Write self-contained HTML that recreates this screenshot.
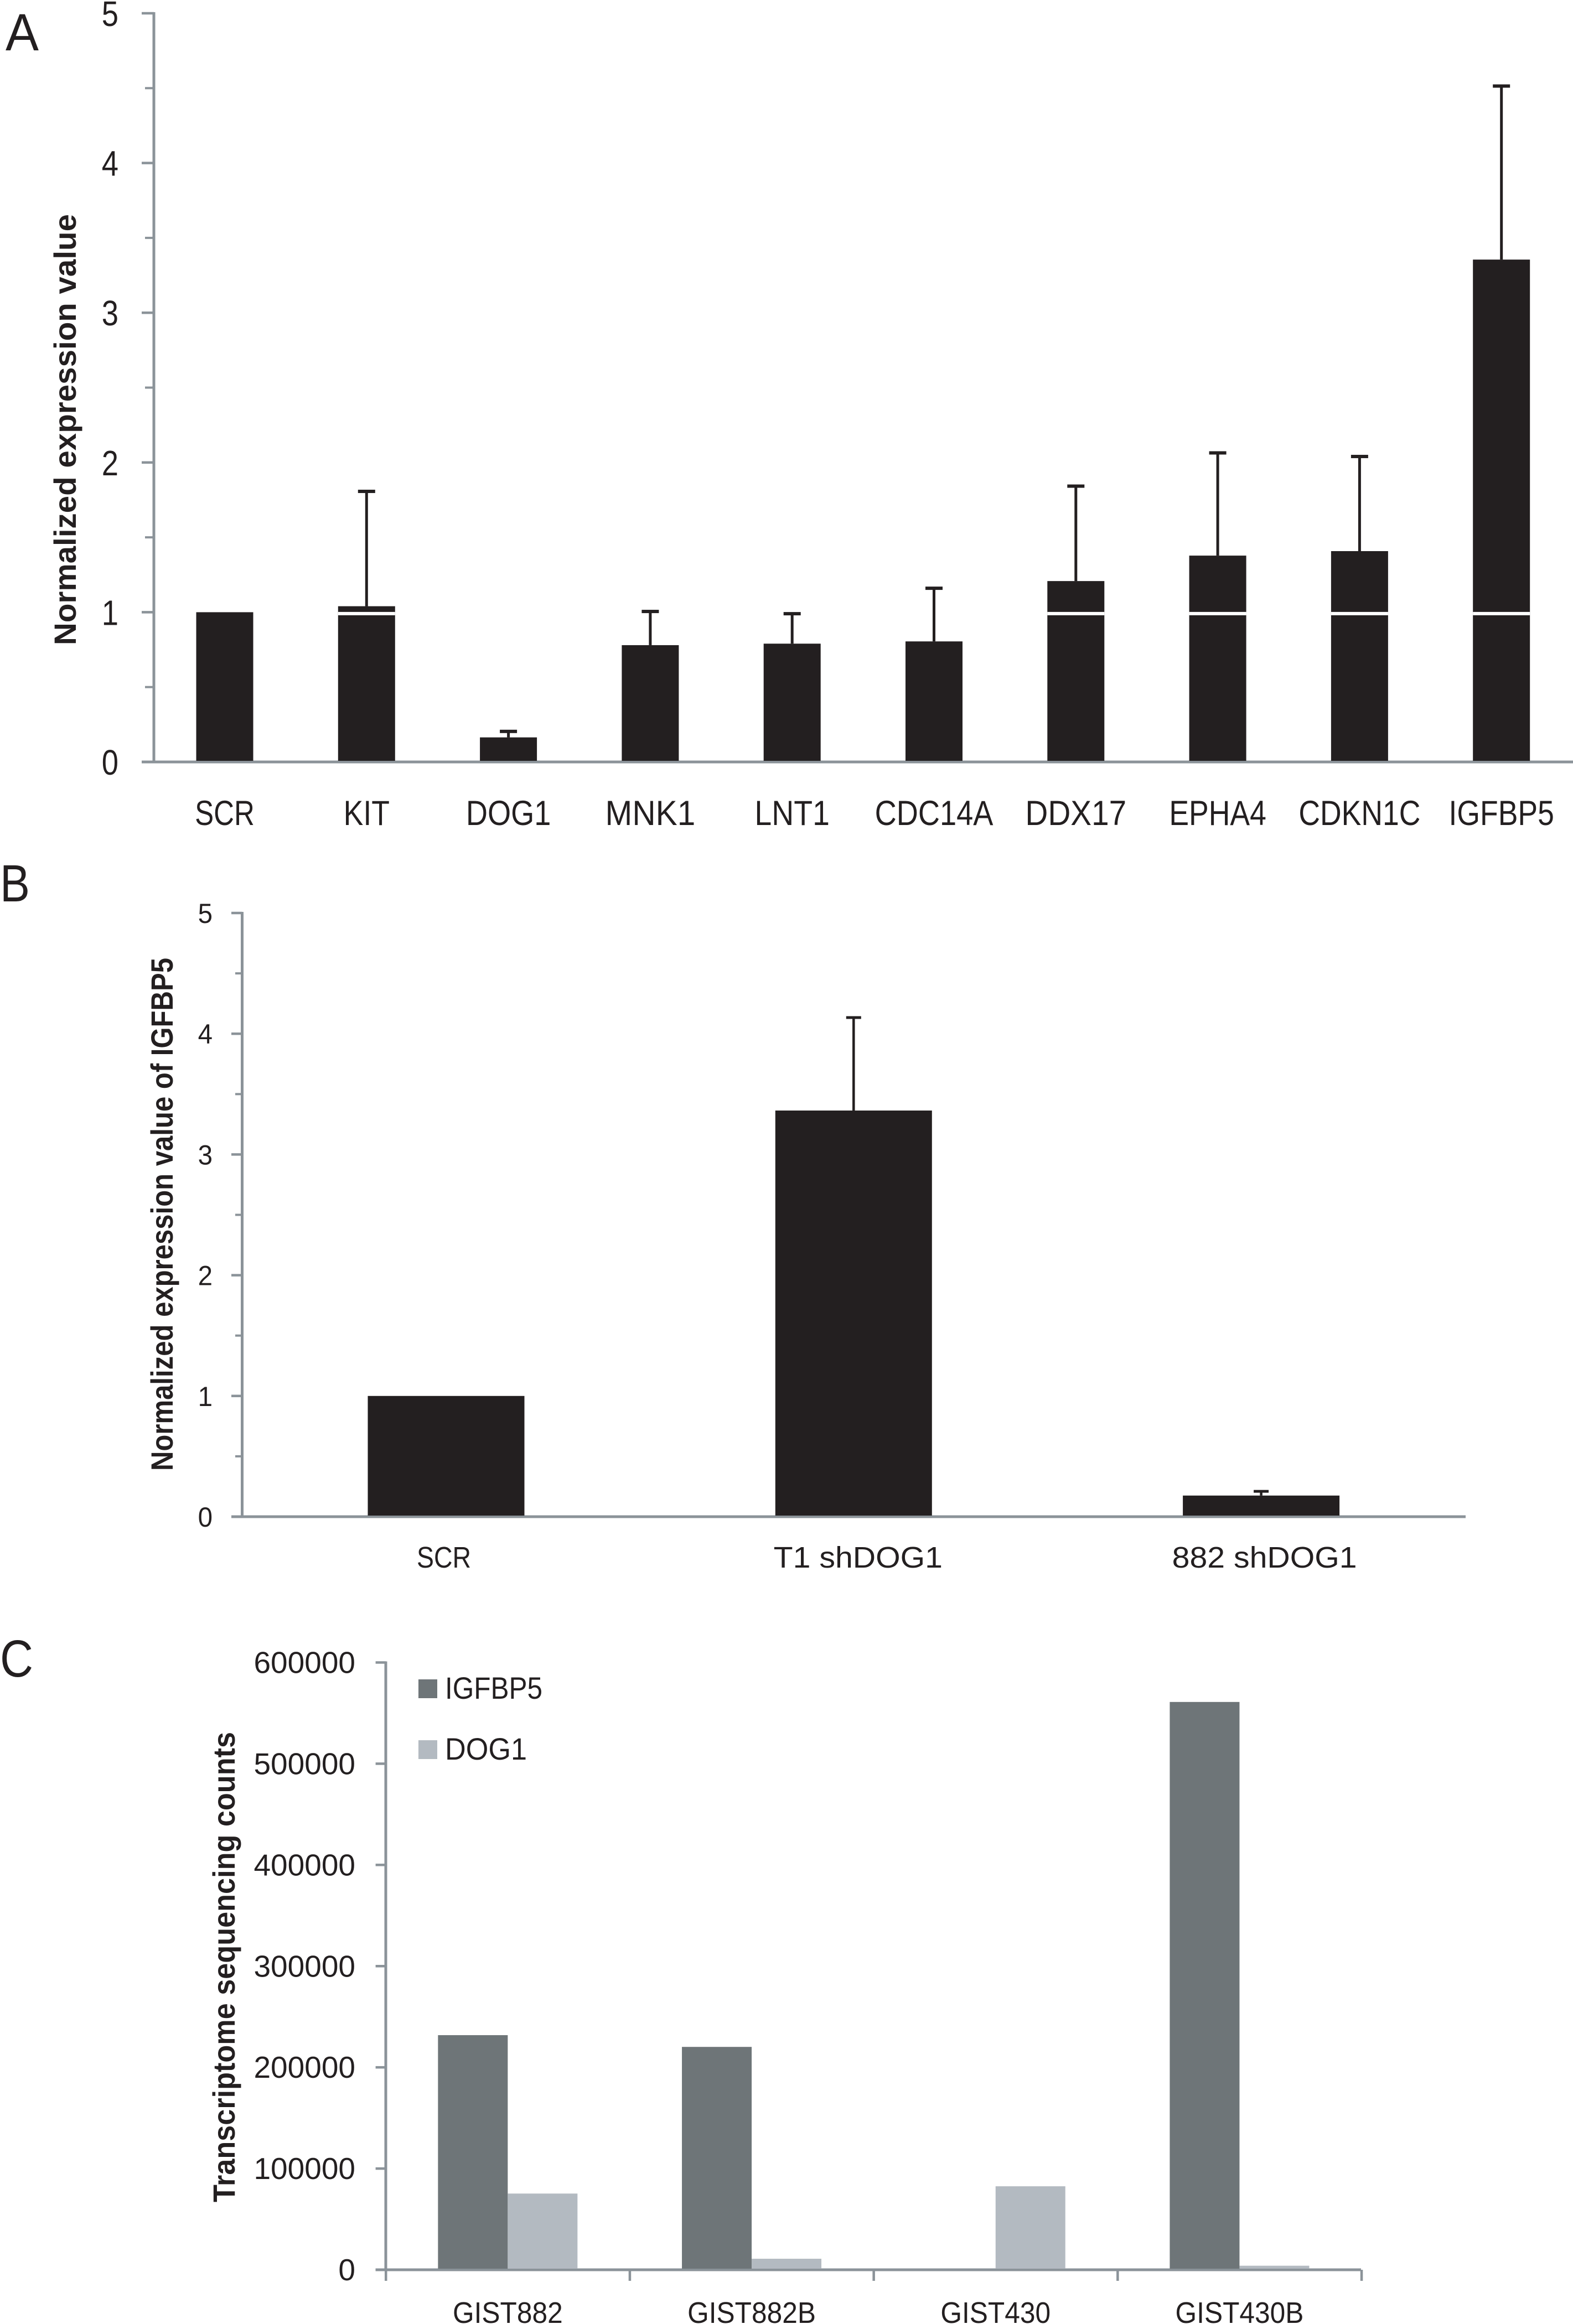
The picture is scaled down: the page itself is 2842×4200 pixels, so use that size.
<!DOCTYPE html>
<html>
<head>
<meta charset="utf-8">
<title>Expression bar charts</title>
<style>
html,body{margin:0;padding:0;background:#fff;}
svg{display:block;}
text{font-family:"Liberation Sans",sans-serif;fill:#231f20;}
</style>
</head>
<body>
<svg id="figure" xmlns="http://www.w3.org/2000/svg" width="2842" height="4200" viewBox="0 0 2842 4200">
<rect x="0" y="0" width="2842" height="4200" fill="#ffffff"/>
<text x="10" y="91" font-size="95" textLength="60" lengthAdjust="spacingAndGlyphs">A</text>
<text x="0" y="1629" font-size="95" textLength="54" lengthAdjust="spacingAndGlyphs">B</text>
<text x="0" y="3030" font-size="95" textLength="60" lengthAdjust="spacingAndGlyphs">C</text>
<text transform="translate(137,776.5) rotate(-90)" text-anchor="middle" font-size="56" font-weight="bold" textLength="779" lengthAdjust="spacingAndGlyphs">Normalized expression value</text>
<text transform="translate(312,2194.5) rotate(-90)" text-anchor="middle" font-size="56" font-weight="bold" textLength="927" lengthAdjust="spacingAndGlyphs">Normalized expression value of IGFBP5</text>
<text transform="translate(424,3555) rotate(-90)" text-anchor="middle" font-size="56" font-weight="bold" textLength="850" lengthAdjust="spacingAndGlyphs">Transcriptome sequencing counts</text>
<rect x="756" y="3035" width="34" height="34" fill="#6e7578"/>
<text x="804" y="3070" font-size="56" textLength="176" lengthAdjust="spacingAndGlyphs">IGFBP5</text>
<rect x="756" y="3145" width="34" height="34" fill="#b3bac1"/>
<text x="804" y="3180" font-size="56" textLength="148" lengthAdjust="spacingAndGlyphs">DOG1</text>
</svg>
<script>
const categoriesA = ['SCR','KIT','DOG1','MNK1','LNT1','CDC14A','DDX17','EPHA4','CDKN1C','IGFBP5'];
const valuesA = [1, 1.04, 0.164, 0.78, 0.79, 0.805, 1.208, 1.378, 1.408, 3.355];
const upperA = [1, 1.807, 0.204, 1.005, 0.99, 1.16, 1.842, 2.064, 2.04, 4.514];
const ticksA = ['0','1','2','3','4','5'];

const categoriesB = ['SCR','T1 shDOG1','882 shDOG1'];
const valuesB = [1, 3.364, 0.175];
const upperB = [1, 4.134, 0.21];
const ticksB = ['0','1','2','3','4','5'];

const categoriesC = ['GIST882','GIST882B','GIST430','GIST430B'];
const seriesIgfbp5 = [231800, 220200, 0, 561000];
const seriesDog1 = [75300, 10900, 82500, 4000];
const ticksC = ['0','100000','200000','300000','400000','500000','600000'];

const NS = 'http://www.w3.org/2000/svg';
const svg = document.getElementById('figure');
const INK = '#231f20', AXIS = '#8b9399', DARK = '#6e7578', LIGHT = '#b3bac1';

function addRect(x, y, w, h, fill, name) {
  const el = document.createElementNS(NS, 'rect');
  el.setAttribute('x', x);
  el.setAttribute('y', y);
  el.setAttribute('width', w);
  el.setAttribute('height', h);
  el.setAttribute('fill', fill);
  
  
  svg.appendChild(el);
  return el;
}
function addText(str, x, y, size, anchor, sx, name) {
  const el = document.createElementNS(NS, 'text');
  el.textContent = str;
  el.setAttribute('transform', 'translate(' + x + ',' + y + ') scale(' + sx + ',1)');
  el.setAttribute('font-size', size);
  el.setAttribute('text-anchor', anchor);
  
  
  svg.appendChild(el);
  return el;
}
function slug(s) { return s.toLowerCase().replace(/\s+/g, '-'); }

function yScale(axis) {
  return function (v) { return axis.y0 - (v / axis.vmax) * (axis.y0 - axis.yTop); };
}

function drawAxes(p, ticks) {
  const y = yScale(p);
  addRect(p.x0 - p.sw / 2, p.yTop - 2, p.sw, p.y0 - p.yTop + 4, AXIS, p.id + '-y-axis');
  addRect(p.tickX, p.y0 - p.sw / 2, p.xEnd - p.tickX, p.sw, AXIS, p.id + '-x-axis');
  ticks.forEach(function (t) {
    const v = Number(t);
    addRect(p.tickX, y(v) - 2.25, p.x0 - p.tickX, 4.5, AXIS, p.id + '-y-tick-' + t);
    addText(t, p.labelX, y(v) + p.labelDy, p.labelSize, 'end', p.labelScale, p.id + '-y-tick-label-' + t);
    if (p.minorX && v < p.vmax) {
      addRect(p.minorX, y(v + p.vmax / 10) - 2, p.x0 - p.minorX, 4, AXIS, p.id + '-y-minor-tick-' + t);
    }
  });
}

function drawErrorBars(p, cats, vals, upper) {
  const y = yScale(p);
  cats.forEach(function (c, i) {
    const cx = p.first + i * p.step;
    const key = slug(c);
    addRect(cx - p.barW / 2, y(vals[i]), p.barW, p.y0 - y(vals[i]) - 2, INK, p.id + '-bar-' + key);
    if (p.band && vals[i] > 1) {
      addRect(cx - p.barW / 2, y(1) - 0.5, p.barW, 6, '#ffffff', p.id + '-reference-line-' + key);
    }
    if (upper[i] > vals[i]) {
      addRect(cx - p.errW / 2, y(upper[i]), p.errW, y(vals[i]) - y(upper[i]), INK, p.id + '-error-line-' + key);
      addRect(cx - p.capW / 2, y(upper[i]) - p.capH / 2, p.capW, p.capH, INK, p.id + '-error-cap-' + key);
    }
    addText(c, cx + (p.catDx ? p.catDx[i] : 0), p.catY, p.catSize, 'middle', p.catScales[i], p.id + '-category-label-' + key);
  });
}

const panelA = {id:'panel-a', x0:278, y0:1377, yTop:24, vmax:5, xEnd:2842, sw:5, tickX:256, minorX:262,
  labelX:214, labelDy:23, labelSize:64, labelScale:0.85,
  first:406, step:256.3, barW:103, errW:5, capW:31, capH:6, band:true,
  catY:1491, catSize:63,
  catScales:[0.81, 0.85, 0.86, 0.93, 0.88, 0.86, 0.90, 0.85, 0.85, 0.85]};
drawAxes(panelA, ticksA);
drawErrorBars(panelA, categoriesA, valuesA, upperA);

const panelB = {id:'panel-b', x0:437.5, y0:2741, yTop:1650, vmax:5, xEnd:2648, sw:5, tickX:418, minorX:425,
  labelX:384, labelDy:18, labelSize:50, labelScale:0.95,
  first:806, step:736.3, barW:283, errW:4.5, capW:27, capH:5, band:false,
  catDx:[-4, 8, 6], catY:2833, catSize:54,
  catScales:[0.86, 1.06, 1.06]};
drawAxes(panelB, ticksB);
drawErrorBars(panelB, categoriesB, valuesB, upperB);

const panelC = {id:'panel-c', x0:697, y0:4102, yTop:3004.5, vmax:600000, xEnd:2459, sw:5, tickX:678.6, minorX:0,
  labelX:642, labelDy:19, labelSize:55, labelScale:1,
  groupW:440.7, barW:126, catY:4198, catSize:54, catScale:0.92};
drawAxes(panelC, ticksC);
(function () {
  const p = panelC;
  const y = yScale(p);
  categoriesC.forEach(function (c, i) {
    const cx = p.x0 + (i + 0.5) * p.groupW;
    const key = slug(c);
    if (seriesIgfbp5[i] > 0) {
      addRect(cx - p.barW, y(seriesIgfbp5[i]), p.barW, p.y0 - y(seriesIgfbp5[i]) - 2, DARK, 'panel-c-bar-igfbp5-' + key);
    }
    if (seriesDog1[i] > 0) {
      addRect(cx, y(seriesDog1[i]), p.barW, p.y0 - y(seriesDog1[i]) - 2, LIGHT, 'panel-c-bar-dog1-' + key);
    }
    addRect(p.x0 + i * p.groupW - 2, p.y0, 4.5, 20, AXIS, 'panel-c-x-tick-' + i);
    addText(c, cx, p.catY, p.catSize, 'middle', p.catScale, 'panel-c-category-label-' + key);
  });
  addRect(p.x0 + categoriesC.length * p.groupW - 2, p.y0, 4.5, 20, AXIS, 'panel-c-x-tick-end');
})();
</script>
</body>
</html>
